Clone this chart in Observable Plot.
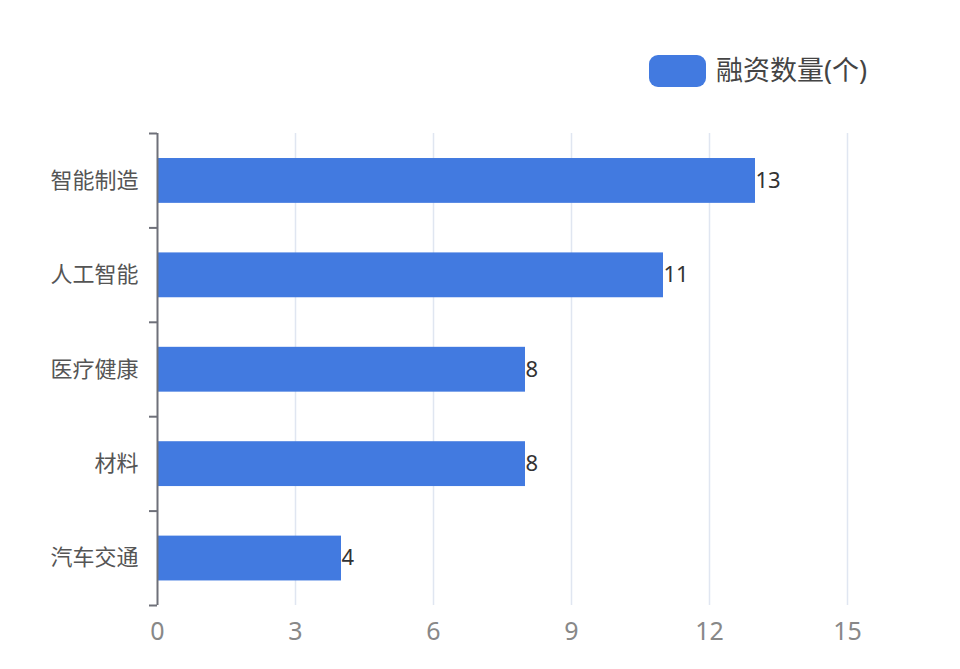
<!DOCTYPE html>
<html><head><meta charset="utf-8">
<script src="https://cdn.jsdelivr.net/npm/d3@7"></script>
<script src="https://cdn.jsdelivr.net/npm/@observablehq/plot@0.6"></script>
<style>
body{margin:0;background:#fff;font-family:"Noto Sans","Noto Sans CJK SC",sans-serif;}
#legend{position:relative;height:110px;width:960px;}
#legend .sw{position:absolute;left:649px;top:55px;width:57px;height:32px;border-radius:9px;background:#427ae0;}
#legend .lb{position:absolute;left:716px;top:51px;font-size:27px;line-height:38px;color:#444;}
</style></head>
<body>
<div id="legend"><div class="sw"></div><div class="lb">融资数量(个)</div></div>
<div id="chart"></div>
<script>
const categories = ["智能制造","人工智能","医疗健康","材料","汽车交通"];
const values = [13, 11, 8, 8, 4];
const xTicks = [0, 3, 6, 9, 12, 15];
const seriesName = "融资数量(个)";

const data = categories.map((c, i) => ({cat: c, value: values[i], i}));
const color = "#427ae0";

const chart = Plot.plot({
  width: 960,
  height: 559,
  marginLeft: 157,
  marginRight: 113,
  marginTop: 23,
  marginBottom: 64,
  style: {fontFamily: '"Noto Sans","Noto Sans CJK SC",sans-serif', background: "#fff"},
  x: {domain: [0, 15], label: null},
  y: {domain: [0, categories.length], reverse: true, label: null},
  marks: [
    Plot.ruleX(xTicks.filter(d => d > 0), {stroke: "#e0e6f1", strokeWidth: 1.5}),
    Plot.rect(data, {x1: () => 0, x2: "value", y1: d => d.i + 0.265, y2: d => d.i + 0.74, fill: color}),
    Plot.text(data, {x: "value", y: d => d.i + 0.5, text: d => String(d.value), textAnchor: "start", dx: 0, fontSize: 22, fill: "#333"}),
    Plot.axisX({ticks: xTicks, tickSize: 0, tickPadding: 17, fontSize: 25, color: "#888", label: null, tickFormat: d => String(d)}),
    Plot.axisY({ticks: d3.range(categories.length + 1), tickSize: 8, tickFormat: () => "", label: null, stroke: "#6e7079", strokeWidth: 2}),
    Plot.axisY({ticks: categories.map((c, i) => i + 0.5), tickSize: 0, tickPadding: 19, fontSize: 22, color: "#555", label: null, tickFormat: d => categories[Math.floor(d)]}),
    Plot.ruleX([0], {stroke: "#6e7079", strokeWidth: 2})
  ]
});
document.getElementById("chart").appendChild(chart);
</script>
</body></html>
